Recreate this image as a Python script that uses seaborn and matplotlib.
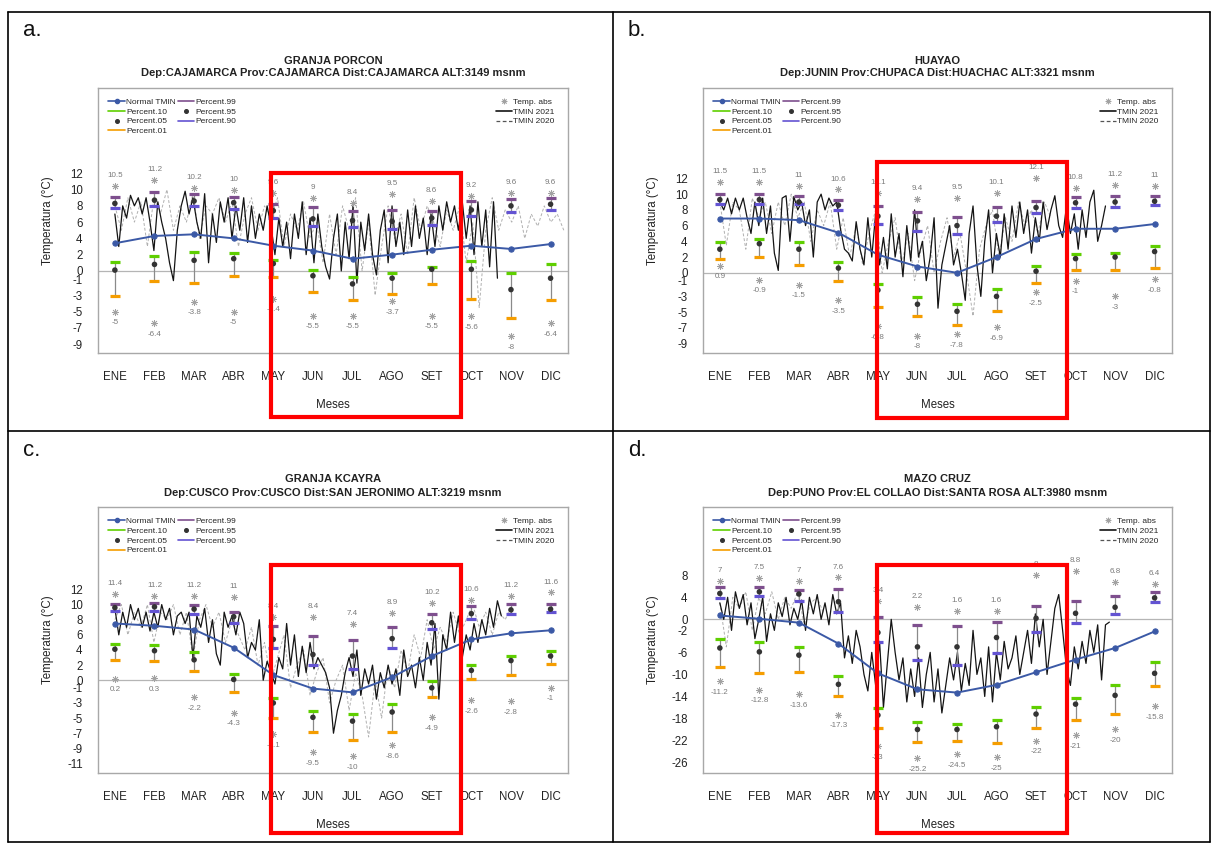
import numpy as np
import matplotlib
matplotlib.use("Agg")
import matplotlib.pyplot as plt
from matplotlib.lines import Line2D
from matplotlib.patches import Rectangle
import seaborn as sns

sns.set_style("white")
plt.rcParams["font.family"] = ["Liberation Sans", "DejaVu Sans"]

MONTHS = ["ENE", "FEB", "MAR", "ABR", "MAY", "JUN", "JUL", "AGO", "SET", "OCT", "NOV", "DIC"]

# ---------------- GRANJA PORCON ----------------
p99_a = [9.1, 9.7, 9.4, 9.1, 8.2, 7.8, 7.4, 7.5, 7.4, 8.6, 8.8, 9.0]
p95_a = [8.3, 8.7, 8.6, 8.4, 7.4, 6.4, 6.2, 6.1, 6.5, 7.5, 8.0, 8.2]
p90_a = [7.7, 8.0, 8.0, 7.6, 6.5, 5.5, 5.4, 5.2, 5.6, 6.8, 7.2, 7.5]
p10_a = [1.1, 1.8, 2.3, 2.2, 1.4, 0.1, -0.8, -0.2, 0.5, 1.2, -0.2, 0.9]
p05_a = [0.1, 0.8, 1.3, 1.5, 0.9, -0.6, -1.6, -0.9, 0.2, 0.2, -2.3, -0.9]
p01_a = [-3.1, -1.2, -1.5, -0.6, -0.7, -2.6, -3.6, -2.9, -1.6, -3.4, -5.8, -3.6]
absmax_a = [10.5, 11.2, 10.2, 10, 9.6, 9, 8.4, 9.5, 8.6, 9.2, 9.6, 9.6]
absmin_a = [-5, -6.4, -3.8, -5, -3.4, -5.5, -5.5, -3.7, -5.5, -5.6, -8, -6.4]
normal_a = [3.4, 4.3, 4.5, 4.0, 3.1, 2.5, 1.5, 2.0, 2.6, 3.1, 2.7, 3.3]
tmin21_a = [7, 3, 8, 6.5, 9.3, 8, 9, 7, 9, 6,
            2.5, 8.5, 6, 4, 1, -1.2, 5, 8, 9.8, 7,
            9, 6, 4, 9.5, 1, 7, 3.5, 8.5, 6, 9,
            4, 8, 5, 9, 3.5, 8, 4, 7, 5, 8,
            5.5, 2, 6.5, 3, 6, 1.5, 7, 4, 8.5, 2,
            6.5, 1, 7, 3, 0.5, -1, 4, 7, 0, 6,
            1.5, 8, -1.5, 6, 2.5, 7, 2, -0.5, 5, 7.5,
            1, 8, 3, 6, 2, 7.5, 3, 8, 4, 6.5,
            2, 7, 3, 8, 5, 8.5, 6, 8, 5, 8.5,
            4, 8, 2, 8.5, 3, 7.5, 0.5, 8.5, -0.9]
tmin20_a = [8, 5, 9, 6, 8.5, 3, 9, 7, 10, 5, 8, 6, 9.5, 4, 8, 7, 9, 6, 8.5, 3,
            7, 9, 5, 8, 6.5, 9, 3, 7, 5, 8.5, 4, 6, 1, 7, 2, 8, 5, 9, 0, 6,
            -3, 3, 8, 4, 7, 2, 9, 5, 8, 6, 3, 7.5, 5, 8, 1, 6, -4.5, 5, 9, 5,
            7.5, 6, 8, 4, 7, 5.5, 8, 6, 7, 5]

# ---------------- HUAYAO ----------------
p99_b = [10.0, 10.0, 9.8, 9.2, 8.5, 7.7, 7.1, 8.4, 9.1, 9.7, 9.8, 9.8]
p95_b = [9.3, 9.3, 9.0, 8.6, 7.2, 6.6, 6.0, 7.2, 8.3, 8.9, 9.0, 9.1]
p90_b = [8.8, 8.8, 8.7, 8.0, 6.2, 5.3, 4.9, 6.4, 7.6, 8.2, 8.4, 8.6]
p10_b = [3.9, 4.3, 3.9, 1.4, -1.4, -3.1, -4.0, -2.1, 0.9, 2.4, 2.5, 3.4]
p05_b = [3.0, 3.7, 3.0, 0.6, -2.2, -4.0, -4.9, -3.0, 0.2, 1.8, 2.0, 2.7]
p01_b = [1.8, 2.0, 1.0, -1.1, -4.3, -5.5, -6.6, -4.9, -1.3, 0.3, 0.4, 0.6]
absmax_b = [11.5, 11.5, 11, 10.6, 10.1, 9.4, 9.5, 10.1, 12.1, 10.8, 11.2, 11]
absmin_b = [0.9, -0.9, -1.5, -3.5, -6.8, -8, -7.8, -6.9, -2.5, -1, -3, -0.8]
normal_b = [6.9, 6.9, 6.7, 5.1, 2.3, 0.8, 0.0, 2.0, 4.3, 5.6, 5.6, 6.2]
tmin21_b = [9, 8, 9.5, 7.5, 9.5, 8, 9.5, 7, 5, 9,
            6, 9.5, 5, 8.5, 2.5, 0.3, 9.5, 9.8, 4, 9.7,
            8, 9, 6, 8, 2, 9, 10, 8, 9.5, 8.5,
            9, 5.5, 3, 2.5, 1.5, 6.5, 3, 1, 7, 2,
            7.5, 1, 4.5, 0.5, 7.5, 2, 5, -0.5, 6, 1.5,
            8, 2, 4, -1, 2, 7, -4.5, 1, 3.5, 6,
            1, 3, 0, -3.5, 5, 8.5, 1, -3, 4, 8,
            0, 5, 2, 7.5, 3, 8.5, 4.5, 9, 5, 8,
            2.5, 7, 4, 9, 5.5, 8, 9.8, 6, 4.5, 8.5,
            5, 7.5, 3, 8, 4.5, 9, 10.5, 4, 6, 8.5]
tmin20_b = [9, 3.5, 9, 8, 3, 9.5, 7, 9, 5, 9, 6, 10, 7, 9, 4, 8, 6, 9, 3, 7,
            2, 6, 1, 5, 8, 0, 4, 7, 1, 5, -1, 3, 6, 0, 4, 7, 2, 5, 0, -5.5,
            3, 6, 8, 2, 7, 4, 9, 6, 8, 5, 9, 7]

# ---------------- GRANJA KCAYRA ----------------
p99_c = [10.1, 10.2, 10.0, 9.0, 7.2, 5.9, 5.3, 7.0, 8.7, 9.8, 10.1, 10.1]
p95_c = [9.6, 9.7, 9.4, 8.4, 5.4, 3.4, 3.2, 5.5, 7.6, 8.8, 9.3, 9.4]
p90_c = [9.2, 9.1, 8.8, 7.6, 4.3, 2.0, 1.5, 4.2, 6.8, 8.1, 8.8, 9.0]
p10_c = [4.8, 4.7, 3.7, 0.8, -2.3, -4.1, -4.5, -3.1, -0.1, 2.0, 3.2, 3.9]
p05_c = [4.1, 3.9, 2.7, 0.1, -3.0, -4.9, -5.4, -4.2, -1.0, 1.3, 2.6, 3.2]
p01_c = [2.7, 2.5, 1.2, -1.5, -5.0, -6.9, -7.9, -6.9, -2.2, 0.2, 0.7, 2.2]
absmax_c = [11.4, 11.2, 11.2, 11, 8.4, 8.4, 7.4, 8.9, 10.2, 10.6, 11.2, 11.6]
absmin_c = [0.2, 0.3, -2.2, -4.3, -7.1, -9.5, -10, -8.6, -4.9, -2.6, -2.8, -1]
normal_c = [7.5, 7.2, 6.7, 4.3, 0.7, -1.1, -1.6, 0.4, 3.2, 5.4, 6.2, 6.6]
tmin21_c = [9.5, 6, 9, 7, 10, 8, 9.5, 7, 9, 6.5,
            9, 7, 10, 8, 9.5, 6, 8.5, 9, 7.5, 9,
            3, 8.5, 7, 9.5, 5, 8, 3.5, 2, 9, 7,
            8.5, 6, 9, 7.5, 3, 5, 4, 8, 0, 2.5,
            1, -0.5, 3, 1.5, 7.5, 2, 6, 0.5, 4.5, 1,
            5, 1.5, 3, 2, 1, -1, -7, -4, -2, 1,
            3, 0.5, 4, -2, 1.5, -0.5, 2, -2.5, 1, -1,
            2, -0.5, 1.5, -2, 4, 0.5, 2, -1, 3, 0,
            5, 2, 7.5, -2.5, 6, 4, 9, 5, 8.5, 3,
            6, 4, 7.5, 5, 8, 6, 9.5, 7, 10.5, 8.5]
tmin20_c = [8, 10, 6, 9, 7, 10, 5, 9, 8, 10, 6, 9, 3, 8, 10, 7, 9, 5, 8, 6,
            4, 7, 2, 5, 0, 3, 6, -1, 2, 4, -2, 1, 3, -3, 0, 2, -4, 1, -2, -7.5,
            0, -5, 2, -1, 4, 1, 6, 3, 8, 4, 7, 5, 9, 6, 8, 10, 7, 9, 6, 9,
            8, 10]

# ---------------- MAZO CRUZ ----------------
p99_d = [5.9, 5.9, 5.3, 5.5, 0.5, -1.0, -1.2, -0.4, 2.5, 3.3, 4.3, 4.9]
p95_d = [4.7, 5.0, 4.6, 3.2, -2.4, -5.0, -5.0, -3.3, 0.2, 1.1, 2.2, 3.9]
p90_d = [3.8, 4.2, 3.4, 1.3, -4.1, -7.3, -8.3, -6.2, -2.3, -0.7, 1.0, 3.1]
p10_d = [-3.6, -4.1, -5.1, -10.3, -16.1, -18.6, -19.0, -18.3, -15.9, -14.2, -11.9, -7.8]
p05_d = [-5.2, -5.9, -6.5, -11.8, -17.4, -20.0, -20.0, -19.5, -17.2, -15.4, -13.8, -9.8]
p01_d = [-8.7, -9.8, -9.6, -13.9, -19.8, -22.2, -22.1, -22.4, -19.8, -18.2, -17.1, -12.1]
absmax_d = [7, 7.5, 7, 7.6, 3.4, 2.2, 1.6, 1.6, 8, 8.8, 6.8, 6.4]
absmin_d = [-11.2, -12.8, -13.6, -17.3, -23, -25.2, -24.5, -25, -22, -21, -20, -15.8]
normal_d = [0.7, 0.1, -0.6, -4.4, -9.8, -12.7, -13.3, -11.9, -9.6, -7.3, -5.2, -2.2]
tmin21_d = [3, 0, 4, -2, 5, 2, 4.5, -1, 3, -3.5,
            0, 4, -4, 1, -2, 3, 0.5, 4, -1, 2,
            0, 3.5, -2, 4, 1, 4.5, 0, 3, -1, 4.5,
            1, 3, -7, -3, -8, -2, -5, -10, -13, -6,
            -12, -4, -16, -8, 0, -6, -11, -7, -15, -9,
            -14, -7, -16, -10, -6, -15, -9, -17, -12, -7,
            -11, -6, -13, -8, -12, -2, -10, -7, -14, -5,
            -15, -6, -11, -4, -9, -7, -3, -10, -6, -2,
            -8, 1, -5, 0, -10, -4, 2, 4.5, -2, -9,
            -12, -5, -9, -4, -8, -2, -6, -1, -11, -1, -0.5]
tmin20_d = [3, -5, 4, 2, 5, -2, 4, 1, 5, 0, 4, 2, 5, -1, 3, 4, 1]

# Y axis ticks and labels
yt_ab = [12, 10, 8, 6, 4, 2, 0, -1, -3, -5, -7, -9]
yt_c = [12, 10, 8, 6, 4, 2, 0, -1, -3, -5, -7, -9, -11]
yt_d = [8, 6, 4, 2, 0, -2, -4, -6, -8, -10, -12, -14, -16, -18, -20, -22, -24, -26]
yl_d = ["8", "", "4", "", "0", "-2", "", "-6", "", "-10", "", "-14", "",
        "-18", "", "-22", "", "-26"]

C_NORMAL = "#3b59a6"
C_P99 = "#7e4f8e"
C_P90 = "#6353d2"
C_P10 = "#5fcf00"
C_P01 = "#f59d00"
C_DOT = "#333333"
C_ABS = "#a2a2a2"
C_VAL = "#7a7a7a"
ASTER = (8, 2, 0)

W, H = 1213, 844
fig = plt.figure(figsize=(W / 100, H / 100), dpi=100)
fig.patch.set_facecolor("white")


def fx(px):
    return px / W


def fy(py):
    return 1 - py / H


stations = [
    dict(tag="a.", tag_xy=(23, 31), name="GRANJA PORCON",
         sub="Dep:CAJAMARCA Prov:CAJAMARCA Dist:CAJAMARCA ALT:3149 msnm",
         title_y=(61, 73.5), box=(98, 88, 568, 353), ylim=(-10.1, 22.5),
         yt=yt_ab, yl=[str(v) for v in yt_ab],
         p99=p99_a, p95=p95_a, p90=p90_a, p10=p10_a, p05=p05_a, p01=p01_a,
         amax=absmax_a, amin=absmin_a, normal=normal_a, t21=tmin21_a, t20=tmin20_a,
         red=(270.7, 173.3, 460.5, 416.7)),
    dict(tag="b.", tag_xy=(628, 31), name="HUAYAO",
         sub="Dep:JUNIN Prov:CHUPACA Dist:HUACHAC ALT:3321 msnm",
         title_y=(61, 73.5), box=(703, 88, 1172, 353), ylim=(-10.2, 23.5),
         yt=yt_ab, yl=[str(v) for v in yt_ab],
         p99=p99_b, p95=p95_b, p90=p90_b, p10=p10_b, p05=p05_b, p01=p01_b,
         amax=absmax_b, amin=absmin_b, normal=normal_b, t21=tmin21_b, t20=tmin20_b,
         red=(877, 161.7, 1067, 418.3)),
    dict(tag="c.", tag_xy=(23, 450), name="GRANJA KCAYRA",
         sub="Dep:CUSCO Prov:CUSCO Dist:SAN JERONIMO ALT:3219 msnm",
         title_y=(479.5, 493), box=(98, 507, 568, 773), ylim=(-12.26, 22.9),
         yt=yt_c, yl=[str(v) for v in yt_c],
         p99=p99_c, p95=p95_c, p90=p90_c, p10=p10_c, p05=p05_c, p01=p01_c,
         amax=absmax_c, amin=absmin_c, normal=normal_c, t21=tmin21_c, t20=tmin20_c,
         red=(271, 565, 460.5, 833)),
    dict(tag="d.", tag_xy=(628, 450), name="MAZO CRUZ",
         sub="Dep:PUNO Prov:EL COLLAO Dist:SANTA ROSA ALT:3980 msnm",
         title_y=(479.5, 493), box=(703, 507, 1172, 773), ylim=(-27.9, 20.4),
         yt=yt_d, yl=yl_d,
         p99=p99_d, p95=p95_d, p90=p90_d, p10=p10_d, p05=p05_d, p01=p01_d,
         amax=absmax_d, amin=absmin_d, normal=normal_d, t21=tmin21_d, t20=tmin20_d,
         red=(877, 565, 1067, 833)),
]

m = np.arange(1, 13)

for st in stations:
    l, t, r, b = st["box"]
    ax = fig.add_axes([fx(l), fy(b), fx(r) - fx(l), fy(t) - fy(b)])

    # daily series: 2021 sampled every 3 days, 2020 every 5 days, from 1 January
    x21 = 1 + np.arange(len(st["t21"])) * 3 / 30.44
    x20 = 1 + np.arange(len(st["t20"])) * 5 / 30.44

    ax.axhline(0, color="#b5b5b5", lw=0.9, zorder=0.5)
    sns.lineplot(x=x20, y=st["t20"], ax=ax, color="#b0b0b0", linewidth=0.7,
                 linestyle=(0, (3, 2)), zorder=1)
    sns.lineplot(x=x21, y=st["t21"], ax=ax, color="#141414", linewidth=0.9, zorder=2)

    # percentile whiskers
    ax.vlines(m, st["p01"], st["p10"], color="#8a8a8a", lw=0.9, zorder=3)
    ax.vlines(m, st["p90"], st["p99"], color="#8a8a8a", lw=0.9, zorder=3)
    for arr, col in [(st["p99"], C_P99), (st["p90"], C_P90),
                     (st["p10"], C_P10), (st["p01"], C_P01)]:
        sns.lineplot(x=m, y=arr, ax=ax, color=col, linestyle="", marker="_",
                     markersize=7.5, markeredgewidth=2.3, markeredgecolor=col, zorder=4)
    for arr in (st["p95"], st["p05"]):
        sns.scatterplot(x=m, y=arr, ax=ax, color=C_DOT, s=16, edgecolor="none", zorder=5)

    # climatological normal
    sns.lineplot(x=m, y=st["normal"], ax=ax, color=C_NORMAL, linewidth=1.4,
                 marker="o", markersize=3.8, markeredgecolor=C_NORMAL, zorder=6)

    # absolute extremes with their values
    for arr, dy in [(st["amax"], 7.5), (st["amin"], -8)]:
        sns.lineplot(x=m, y=arr, ax=ax, color=C_ABS, linestyle="", marker=ASTER,
                     markersize=5, markeredgewidth=0.55, markeredgecolor=C_ABS, zorder=5)
        for xi, v in zip(m, arr):
            ax.annotate(f"{v:g}", (xi, v), xytext=(0, dy), textcoords="offset points",
                        ha="center", va="center", fontsize=5.8, color=C_VAL, zorder=6)

    ax.set_xlim(0.574, 12.44)
    ax.set_ylim(*st["ylim"])
    ax.set_xticks(m)
    ax.set_xticklabels(MONTHS)
    ax.set_yticks(st["yt"])
    ax.set_yticklabels(st["yl"])
    ax.tick_params(axis="both", direction="out", length=4, width=0.8, color="#666666",
                   labelsize=8.3, labelcolor="#222222")
    ax.tick_params(axis="x", pad=9)
    ax.tick_params(axis="y", pad=7)
    for sp in ax.spines.values():
        sp.set_color("#a8a8a8")
        sp.set_linewidth(1.0)
    ax.set_xlabel("Meses", fontsize=8.3, color="#222222", va="center")
    ax.xaxis.set_label_coords(0.5, -0.196)
    ax.set_ylabel("Temperatura (°C)", fontsize=8.3, color="#222222", va="center")
    ax.yaxis.set_label_coords(-0.106, 0.5)

    left_handles = [
        Line2D([], [], color=C_NORMAL, lw=1.2, marker="o", markersize=3),
        Line2D([], [], color=C_P10, lw=1.2),
        Line2D([], [], color=C_DOT, ls="", marker="o", markersize=2.6),
        Line2D([], [], color=C_P01, lw=1.2),
        Line2D([], [], color=C_P99, lw=1.2),
        Line2D([], [], color=C_DOT, ls="", marker="o", markersize=2.6),
        Line2D([], [], color=C_P90, lw=1.2),
    ]
    left_labels = ["Normal TMIN", "Percent.10", "Percent.05", "Percent.01",
                   "Percent.99", "Percent.95", "Percent.90"]
    leg1 = ax.legend(left_handles, left_labels, loc="upper left",
                     bbox_to_anchor=(0.022, 0.963), ncol=2, frameon=False, fontsize=6,
                     handlelength=2.0, handletextpad=0.15, columnspacing=0.2,
                     labelspacing=0.25, borderpad=0, borderaxespad=0)
    ax.add_artist(leg1)
    right_handles = [
        Line2D([], [], color=C_ABS, ls="", marker=ASTER, markersize=4, markeredgewidth=0.6),
        Line2D([], [], color="#141414", lw=1.2),
        Line2D([], [], color="#555555", lw=0.9, ls=(0, (3, 2))),
    ]
    ax.legend(right_handles, ["Temp. abs", "TMIN 2021", "TMIN 2020"], loc="upper right",
              bbox_to_anchor=(0.972, 0.963), frameon=False, fontsize=6,
              handlelength=2.0, handletextpad=0.15, labelspacing=0.25,
              borderpad=0, borderaxespad=0)

    cx = (l + r) / 2
    fig.text(fx(cx), fy(st["title_y"][0]), st["name"], ha="center", va="center",
             fontsize=8, fontweight="bold", color="#222222")
    fig.text(fx(cx), fy(st["title_y"][1]), st["sub"], ha="center", va="center",
             fontsize=8, fontweight="bold", color="#222222")
    fig.text(fx(st["tag_xy"][0]), fy(st["tag_xy"][1]), st["tag"], ha="left", va="center",
             fontsize=16, color="#111111")

    rx0, ry0, rx1, ry1 = st["red"]
    fig.patches.append(Rectangle((fx(rx0), fy(ry1)), fx(rx1) - fx(rx0), fy(ry0) - fy(ry1),
                                 transform=fig.transFigure, fill=False,
                                 edgecolor="#ff0000", linewidth=3, zorder=20))

# table frame around the four panels
frame_kw = dict(transform=fig.transFigure, color="black", linewidth=1.2, zorder=15)
for xs, ys in [((8, 1210), (12, 12)), ((8, 1210), (431, 431)), ((8, 1210), (842, 842)),
               ((8, 8), (12, 842)), ((612.7, 612.7), (12, 842)), ((1210, 1210), (12, 842))]:
    fig.lines.append(Line2D([fx(xs[0]), fx(xs[1])], [fy(ys[0]), fy(ys[1])], **frame_kw))

fig.savefig("out.png", dpi=100, facecolor="white")
